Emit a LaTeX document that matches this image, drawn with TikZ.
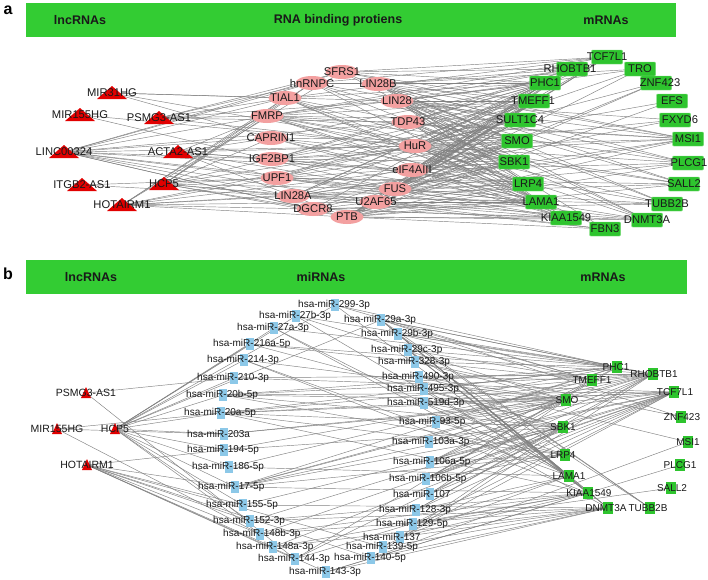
\documentclass[tikz,border=0pt]{standalone}
\usepackage{fontspec}
\setmainfont{Liberation Sans}
\usetikzlibrary{shapes.geometric,backgrounds}
\definecolor{bargreen}{RGB}{51,204,51}
\definecolor{boxgreen}{RGB}{46,196,46}
\definecolor{boxedge}{RGB}{120,220,120}
\definecolor{rbppink}{RGB}{243,160,160}
\definecolor{lncred}{RGB}{225,0,0}
\definecolor{mirblue}{RGB}{140,200,232}
\definecolor{edgegray}{RGB}{130,130,130}
\definecolor{txt}{RGB}{25,25,25}
\newcommand\lncA[4]{\pic at (#2,#3) {triA}; \node[anc] (#1) at (#2,#3) {}; \node[la] (#1l) at (#2,#3) {#4};}
\newcommand\rbpA[4]{\node[rbp] (#1) at (#2,#3) {}; \node[la] (#1l) at (#2,#3) {#4};}
\newcommand\mrnaA[6]{\node[mbox] (#1) at (#2,#3) {}; \node[la] (#1l) at (#4,#5) {#6};}
\newcommand\lncB[4]{\pic at (#2,#3) {triB}; \node[anc] (#1) at (#2,#3) {}; \node[lbl] (#1l) at (#2,#3) {#4};}
\newcommand\mirB[4]{\node[mirbox] (#1) at (#2+37,#3) {}; \node[lb,anchor=west] (#1l) at (#2,#3) {#4};}
\newcommand\mrnaB[5]{\node[nbox] (#1) at (#2,#3) {}; \node[lb] (#1l) at (#4,#3) {#5};}
\begin{document}
\begin{tikzpicture}[x=1pt,y=-1pt,
 edge/.style={draw=edgegray, line width=0.45pt},
 hdr/.style={font=\fontsize{12.5}{14}\selectfont\bfseries, text=txt, inner sep=0},
 panel/.style={font=\fontsize{16}{18}\selectfont\bfseries, inner sep=0},
 la/.style={font=\fontsize{11.2}{12}\selectfont, text=txt, inner sep=0},
 lb/.style={font=\fontsize{10}{11}\selectfont, text=txt, inner sep=0},
 lbl/.style={font=\fontsize{10.5}{11}\selectfont, text=txt, inner sep=0},
 anc/.style={inner sep=0, minimum size=0, outer sep=0},
 rbp/.style={ellipse, fill=rbppink, minimum width=33pt, minimum height=14pt, inner sep=0},
 mbox/.style={rectangle, rounded corners=1pt, fill=boxgreen, draw=boxedge, line width=0.4pt, minimum width=31pt, minimum height=14pt, inner sep=0},
 mirbox/.style={rectangle, fill=mirblue, minimum width=8pt, minimum height=12pt, inner sep=0},
 nbox/.style={rectangle, fill=boxgreen, minimum width=10pt, minimum height=12pt, inner sep=0},
 triA/.pic={\fill[lncred] (-15,6) -- (15,6) -- (0,-7) -- cycle;},
 triB/.pic={\fill[lncred] (-5,5) -- (5,5) -- (0,-6) -- cycle;}]
\useasboundingbox (0,0) rectangle (708,579);

% ---------- panel a header ----------
\node[panel] (pa) at (8,10) {a};
\node[fill=bargreen, minimum width=650pt, minimum height=34pt, inner sep=0, anchor=north west] (bara) at (26,3) {};
\node[hdr] (ha1) at (80,20) {lncRNAs};
\node[hdr] (ha2) at (338,20) {RNA binding protiens};
\node[hdr] (ha3) at (606,20) {mRNAs};

% ---------- panel a nodes ----------
\lncA{aMIR31HG}{112}{93}{MIR31HG}
\lncA{aMIR155HG}{80}{115}{MIR155HG}
\lncA{aPSMG3}{159}{118}{PSMG3-AS1}
\lncA{aLINC}{64}{152}{LINC00324}
\lncA{aACTA2}{178}{152}{ACTA2-AS1}
\lncA{aITGB2}{82}{185}{ITGB2-AS1}
\lncA{aHCP5}{164}{184}{HCP5}
\lncA{aHOTAIRM1}{122}{205}{HOTAIRM1}

\rbpA{rSFRS1}{342}{72}{SFRS1}
\rbpA{rhnRNPC}{312}{83}{hnRNPC}
\rbpA{rLIN28B}{378}{84}{LIN28B}
\rbpA{rTIAL1}{285}{98}{TIAL1}
\rbpA{rLIN28}{397}{101}{LIN28}
\rbpA{rFMRP}{267}{116}{FMRP}
\rbpA{rTDP43}{408}{122}{TDP43}
\rbpA{rCAPRIN1}{271}{138}{CAPRIN1}
\rbpA{rHuR}{415}{146}{HuR}
\rbpA{rIGF2BP1}{272}{159}{IGF2BP1}
\rbpA{reIF4AIII}{412}{170}{eIF4AIII}
\rbpA{rUPF1}{277}{178}{UPF1}
\rbpA{rFUS}{395}{189}{FUS}
\rbpA{rLIN28A}{293}{196}{LIN28A}
\rbpA{rU2AF65}{376}{202}{U2AF65}
\rbpA{rDGCR8}{313}{209}{DGCR8}
\rbpA{rPTB}{347}{217}{PTB}

\mrnaA{mTCF7L1}{607}{57}{607}{57}{TCF7L1}
\mrnaA{mRHOBTB1}{572}{69}{570}{69}{RHOBTB1}
\mrnaA{mTRO}{640}{69}{640}{69}{TRO}
\mrnaA{mPHC1}{545}{83}{545}{83}{PHC1}
\mrnaA{mZNF423}{656}{83}{660}{83}{ZNF423}
\mrnaA{mTMEFF1}{534}{101}{533}{101}{TMEFF1}
\mrnaA{mEFS}{672}{101}{672}{101}{EFS}
\mrnaA{mSULT1C4}{520}{120}{520}{120}{SULT1C4}
\mrnaA{mFXYD6}{675}{120}{680}{120}{FXYD6}
\mrnaA{mSMO}{517}{141}{517}{141}{SMO}
\mrnaA{mMSI1}{688}{139}{688}{139}{MSI1}
\mrnaA{mSBK1}{514}{162}{514}{162}{SBK1}
\mrnaA{mPLCG1}{688}{163}{689}{163}{PLCG1}
\mrnaA{mLRP4}{528}{184}{528}{184}{LRP4}
\mrnaA{mSALL2}{684}{184}{684}{184}{SALL2}
\mrnaA{mLAMA1}{541}{202}{541}{202}{LAMA1}
\mrnaA{mTUBB2B}{667}{204}{667}{204}{TUBB2B}
\mrnaA{mKIAA1549}{566}{218}{566}{218}{KIAA1549}
\mrnaA{mDNMT3A}{647}{220}{647}{220}{DNMT3A}
\mrnaA{mFBN3}{605}{229}{605}{229}{FBN3}

% ---------- panel b header ----------
\node[panel] (pb) at (8,274) {b};
\node[fill=bargreen, minimum width=661pt, minimum height=34pt, inner sep=0, anchor=north west] (barb) at (26,260) {};
\node[hdr] (hb1) at (91,277) {lncRNAs};
\node[hdr] (hb2) at (321,277) {miRNAs};
\node[hdr] (hb3) at (603,277) {mRNAs};

% ---------- panel b nodes ----------
\lncB{bPSMG3}{86}{393}{PSMG3-AS1}
\lncB{bMIR155HG}{57}{429}{MIR155HG}
\lncB{bHCP5}{115}{429}{HCP5}
\lncB{bHOTAIRM1}{87}{465}{HOTAIRM1}

\mirB{q299}{298}{305}{hsa-miR-299-3p}
\mirB{q27b}{259}{316}{hsa-miR-27b-3p}
\mirB{q27a}{237}{328}{hsa-miR-27a-3p}
\mirB{q216a}{213}{344}{hsa-miR-216a-5p}
\mirB{q214}{207}{360}{hsa-miR-214-3p}
\mirB{q210}{197}{378}{hsa-miR-210-3p}
\mirB{q20b}{186}{395}{hsa-miR-20b-5p}
\mirB{q20a}{184}{413}{hsa-miR-20a-5p}
\mirB{q203a}{187}{434}{hsa-miR-203a}
\mirB{q194}{187}{450}{hsa-miR-194-5p}
\mirB{q186}{192}{467}{hsa-miR-186-5p}
\mirB{q17}{198}{487}{hsa-miR-17-5p}
\mirB{q155}{206}{505}{hsa-miR-155-5p}
\mirB{q152}{213}{521}{hsa-miR-152-3p}
\mirB{q148b}{223}{534}{hsa-miR-148b-3p}
\mirB{q148a}{236}{547}{hsa-miR-148a-3p}
\mirB{q144}{258}{559}{hsa-miR-144-3p}
\mirB{q143}{289}{572}{hsa-miR-143-3p}
\mirB{q29a}{344}{320}{hsa-miR-29a-3p}
\mirB{q29b}{361}{334}{hsa-miR-29b-3p}
\mirB{q29c}{371}{350}{hsa-miR-29c-3p}
\mirB{q328}{378}{362}{hsa-miR-328-3p}
\mirB{q490}{382}{377}{hsa-miR-490-3p}
\mirB{q495}{387}{389}{hsa-miR-495-3p}
\mirB{q519d}{387}{403}{hsa-miR-519d-3p}
\mirB{q93}{399}{422}{hsa-miR-93-5p}
\mirB{q103a}{392}{442}{hsa-miR-103a-3p}
\mirB{q106a}{393}{462}{hsa-miR-106a-5p}
\mirB{q106b}{389}{479}{hsa-miR-106b-5p}
\mirB{q107}{393}{494}{hsa-miR-107}
\mirB{q128}{379}{510}{hsa-miR-128-3p}
\mirB{q129}{376}{524}{hsa-miR-129-5p}
\mirB{q137}{363}{537}{hsa-miR-137}
\mirB{q139}{346}{547}{hsa-miR-139-5p}
\mirB{q140}{334}{558}{hsa-miR-140-5p}

\mrnaB{nPHC1}{617}{367}{616}{PHC1}
\mrnaB{nRHOBTB1}{653}{374}{654}{RHOBTB1}
\mrnaB{nTMEFF1}{592}{380}{592}{TMEFF1}
\mrnaB{nTCF7L1}{674}{392}{675}{TCF7L1}
\mrnaB{nSMO}{566}{400}{567}{SMO}
\mrnaB{nZNF423}{681}{417}{682}{ZNF423}
\mrnaB{nSBK1}{563}{427}{563}{SBK1}
\mrnaB{nMSI1}{688}{442}{688}{MSI1}
\mrnaB{nLRP4}{565}{455}{563}{LRP4}
\mrnaB{nPLCG1}{680}{465}{680}{PLCG1}
\mrnaB{nLAMA1}{569}{476}{569}{LAMA1}
\mrnaB{nSALL2}{671}{488}{672}{SALL2}
\mrnaB{nKIAA1549}{588}{493}{589}{KIAA1549}
\mrnaB{nDNMT3A}{608}{508}{606}{DNMT3A}
\mrnaB{nTUBB2B}{650}{508}{648}{TUBB2B}

% ---------- edges ----------
\begin{pgfonlayer}{background}
\fill[white] (0,0) rectangle (708,579);
\foreach \s/\L in {
 aMIR31HG/{rTIAL1,rCAPRIN1,rLIN28,rHuR},
 aMIR155HG/{rHuR,rFUS},
 aPSMG3/{rSFRS1,rhnRNPC,rTIAL1,rFMRP,rLIN28,rTDP43,rHuR},
 aLINC/{rSFRS1,rhnRNPC,rTIAL1,rFMRP,rCAPRIN1,rIGF2BP1,rUPF1,rLIN28A,rDGCR8,rPTB,rU2AF65,rFUS,reIF4AIII,rHuR,rTDP43},
 aACTA2/{rFMRP,rCAPRIN1,rIGF2BP1,rUPF1,rHuR,rFUS,reIF4AIII,rPTB},
 aITGB2/{rUPF1,rLIN28A},
 aHCP5/{rhnRNPC,rTIAL1,rFMRP,rCAPRIN1,rIGF2BP1,rUPF1,rLIN28A,rDGCR8,rPTB,rFUS,rU2AF65,rHuR},
 aHOTAIRM1/{rSFRS1,rhnRNPC,rTIAL1,rUPF1,rLIN28A,rDGCR8,rPTB,rU2AF65,rFUS,reIF4AIII,rHuR},
 rSFRS1/{mTCF7L1,mRHOBTB1,mPHC1,mTMEFF1,mSMO,mSBK1,mMSI1},
 rhnRNPC/{mTCF7L1,mPHC1,mSULT1C4,mSMO,mSBK1,mLAMA1},
 rLIN28B/{mRHOBTB1,mTRO,mPHC1,mTMEFF1,mSULT1C4,mSMO,mSBK1,mLRP4,mMSI1,mPLCG1,mSALL2,mTUBB2B,mDNMT3A},
 rTIAL1/{mTCF7L1,mPHC1,mSMO,mSBK1,mLRP4,mLAMA1,mKIAA1549},
 rLIN28/{mRHOBTB1,mTRO,mPHC1,mTMEFF1,mSULT1C4,mSMO,mSBK1,mLRP4,mLAMA1,mMSI1,mFXYD6,mPLCG1,mSALL2,mTUBB2B,mDNMT3A,mFBN3},
 rFMRP/{mTCF7L1,mRHOBTB1,mPHC1,mTMEFF1,mSULT1C4,mSMO,mSBK1,mLRP4,mLAMA1,mKIAA1549,mMSI1,mSALL2},
 rTDP43/{mRHOBTB1,mPHC1,mTMEFF1,mSMO,mSBK1,mLRP4,mLAMA1,mKIAA1549,mMSI1,mPLCG1,mDNMT3A},
 rCAPRIN1/{mPHC1,mSMO,mSBK1,mLAMA1,mKIAA1549,mTUBB2B},
 rHuR/{mTCF7L1,mRHOBTB1,mTRO,mPHC1,mZNF423,mTMEFF1,mEFS,mSULT1C4,mFXYD6,mSMO,mMSI1,mSBK1,mPLCG1,mLRP4,mSALL2,mLAMA1,mTUBB2B,mKIAA1549,mDNMT3A,mFBN3},
 rIGF2BP1/{mRHOBTB1,mPHC1,mTMEFF1,mSULT1C4,mSMO,mSBK1,mLRP4,mMSI1,mDNMT3A},
 reIF4AIII/{mTCF7L1,mRHOBTB1,mPHC1,mTMEFF1,mSULT1C4,mSMO,mSBK1,mLRP4,mLAMA1,mKIAA1549,mFXYD6,mPLCG1},
 rUPF1/{mPHC1,mTMEFF1,mSULT1C4,mSMO,mSBK1,mLRP4,mLAMA1,mKIAA1549,mDNMT3A,mSALL2},
 rFUS/{mTCF7L1,mRHOBTB1,mPHC1,mZNF423,mTMEFF1,mSULT1C4,mSMO,mSBK1,mLRP4,mLAMA1,mKIAA1549,mMSI1,mPLCG1,mTUBB2B},
 rLIN28A/{mRHOBTB1,mPHC1,mTMEFF1,mSMO,mSBK1,mLRP4,mLAMA1,mMSI1,mSALL2,mTUBB2B,mDNMT3A,mFBN3},
 rU2AF65/{mTCF7L1,mPHC1,mTMEFF1,mSULT1C4,mSMO,mSBK1,mLAMA1,mKIAA1549,mFBN3},
 rDGCR8/{mPHC1,mSMO,mSBK1,mLRP4,mLAMA1,mKIAA1549,mDNMT3A,mTUBB2B},
 rPTB/{mTCF7L1,mRHOBTB1,mTRO,mPHC1,mZNF423,mTMEFF1,mEFS,mSULT1C4,mSMO,mSBK1,mLRP4,mLAMA1,mKIAA1549,mMSI1,mPLCG1,mSALL2,mDNMT3A,mFBN3},
 bHCP5/{q299,q29a,q27b,q27a,q216a,q214,q210,q20b,q20a,q203a,q194,q186,q17,q155,q152,q148b},
 bPSMG3/{q210,q144},
 bMIR155HG/{q20a,q203a,q148b},
 bHOTAIRM1/{q194,q17,q155,q152,q148b,q148a,q144,q143,q140,q139},
 q299/{nPHC1,nTMEFF1,nKIAA1549},
 q27b/{nPHC1,nLAMA1,nSMO},
 q27a/{nPHC1,nLAMA1,nDNMT3A},
 q216a/{nTMEFF1,nSBK1,nRHOBTB1},
 q214/{nSMO,nKIAA1549,nLAMA1},
 q210/{nRHOBTB1,nTCF7L1},
 q20b/{nPHC1,nSMO,nSBK1,nRHOBTB1,nTCF7L1,nLRP4},
 q20a/{nPHC1,nSMO,nSBK1,nRHOBTB1,nTCF7L1,nLRP4,nKIAA1549},
 q203a/{nSMO,nTCF7L1},
 q194/{nSBK1,nRHOBTB1},
 q186/{nLAMA1,nTMEFF1},
 q17/{nPHC1,nSMO,nSBK1,nRHOBTB1,nTCF7L1,nLRP4,nKIAA1549},
 q155/{nSBK1,nDNMT3A},
 q152/{nTCF7L1,nDNMT3A,nKIAA1549},
 q148b/{nTCF7L1,nDNMT3A,nKIAA1549},
 q148a/{nTCF7L1,nDNMT3A,nKIAA1549},
 q144/{nTMEFF1,nSBK1,nLAMA1},
 q143/{nKIAA1549,nDNMT3A,nPLCG1},
 q29a/{nPHC1,nTMEFF1,nRHOBTB1,nLAMA1,nKIAA1549,nDNMT3A,nTUBB2B,nZNF423},
 q29b/{nPHC1,nTMEFF1,nRHOBTB1,nLAMA1,nKIAA1549,nDNMT3A,nTUBB2B},
 q29c/{nPHC1,nTMEFF1,nLAMA1,nKIAA1549,nDNMT3A,nTUBB2B},
 q328/{nPHC1,nSMO,nZNF423},
 q490/{nTMEFF1,nSMO,nRHOBTB1,nMSI1},
 q495/{nSMO,nSBK1,nPHC1,nLAMA1},
 q519d/{nPHC1,nSMO,nSBK1,nRHOBTB1,nTCF7L1,nLRP4},
 q93/{nPHC1,nSMO,nSBK1,nRHOBTB1,nTCF7L1,nLRP4},
 q103a/{nRHOBTB1,nTCF7L1,nSMO},
 q106a/{nPHC1,nSMO,nSBK1,nRHOBTB1,nTCF7L1,nLRP4},
 q106b/{nPHC1,nSMO,nSBK1,nRHOBTB1,nTCF7L1,nLRP4},
 q107/{nRHOBTB1,nTCF7L1,nSMO},
 q128/{nRHOBTB1,nTCF7L1,nSBK1,nLAMA1},
 q129/{nTCF7L1,nKIAA1549,nSALL2},
 q137/{nLAMA1,nKIAA1549,nDNMT3A,nSBK1},
 q139/{nTCF7L1,nDNMT3A},
 q140/{nDNMT3A,nRHOBTB1,nMSI1}}
 {\foreach \t in \L {\draw[edge] (\s.center) -- (\t.center);}}
\end{pgfonlayer}
\end{tikzpicture}
\end{document}
